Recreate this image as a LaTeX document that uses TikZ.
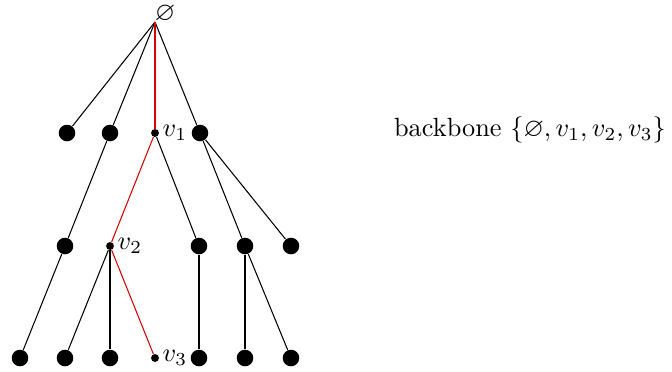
\documentclass[tikz,border=0pt]{standalone}
\usepackage{amssymb}
\begin{document}
\begin{tikzpicture}[x=0.38pt,y=-0.38pt,
  big/.style={circle,fill=black,inner sep=0pt,minimum size=6.3pt},
  small/.style={circle,fill=black,inner sep=0pt,minimum size=3pt},
  edge/.style={line width=0.4pt,black},
  bb/.style={line width=0.4pt,red!85!black}]
\useasboundingbox (0,0) rectangle (672,371);
% root
\coordinate (r) at (155,22);
\node[anchor=center,inner sep=0pt] (rl) at (165,14) {$\varnothing$};
% level 1
\node[big] (a1) at (67,133) {};
\node[big] (a2) at (110,133) {};
\node[small,label={[inner sep=1pt]right:$v_1$}] (v1) at (155,133) {};
\node[big] (a4) at (200,133) {};
% level 2
\node[big] (b1) at (65,246) {};
\node[small,label={[inner sep=1pt]right:$v_2$}] (v2) at (110,246) {};
\node[big] (b3) at (199,246) {};
\node[big] (b4) at (245,246) {};
\node[big] (b5) at (291,246) {};
% level 3
\node[big] (c1) at (20,358) {};
\node[big] (c2) at (65,358) {};
\node[big] (c3) at (110,358) {};
\node[small,label={[inner sep=1pt]right:$v_3$}] (v3) at (155,358) {};
\node[big] (c5) at (199,358) {};
\node[big] (c6) at (245,358) {};
\node[big] (c7) at (291,358) {};
% edges
\draw[edge] (r) -- (a1);
\draw[edge] (r) -- (a2);
\draw[edge] (r) -- (a4);
\draw[edge] (a2) -- (b1);
\draw[edge] (v1) -- (b3);
\draw[edge] (a4) -- (b4);
\draw[edge] (a4) -- (b5);
\draw[edge] (b1) -- (c1);
\draw[edge] (v2) -- (c2);
\draw[edge] (v2) -- (c3);
\draw[edge] (b3) -- (c5);
\draw[edge] (b4) -- (c6);
\draw[edge] (b4) -- (c7);
% backbone path
\draw[bb] (r) -- (v1);
\draw[bb] (v1) -- (v2);
\draw[bb] (v2) -- (v3);
% caption
\node (cap) at (530,130) {backbone $\{\varnothing, v_1, v_2, v_3\}$};
\end{tikzpicture}
\end{document}
